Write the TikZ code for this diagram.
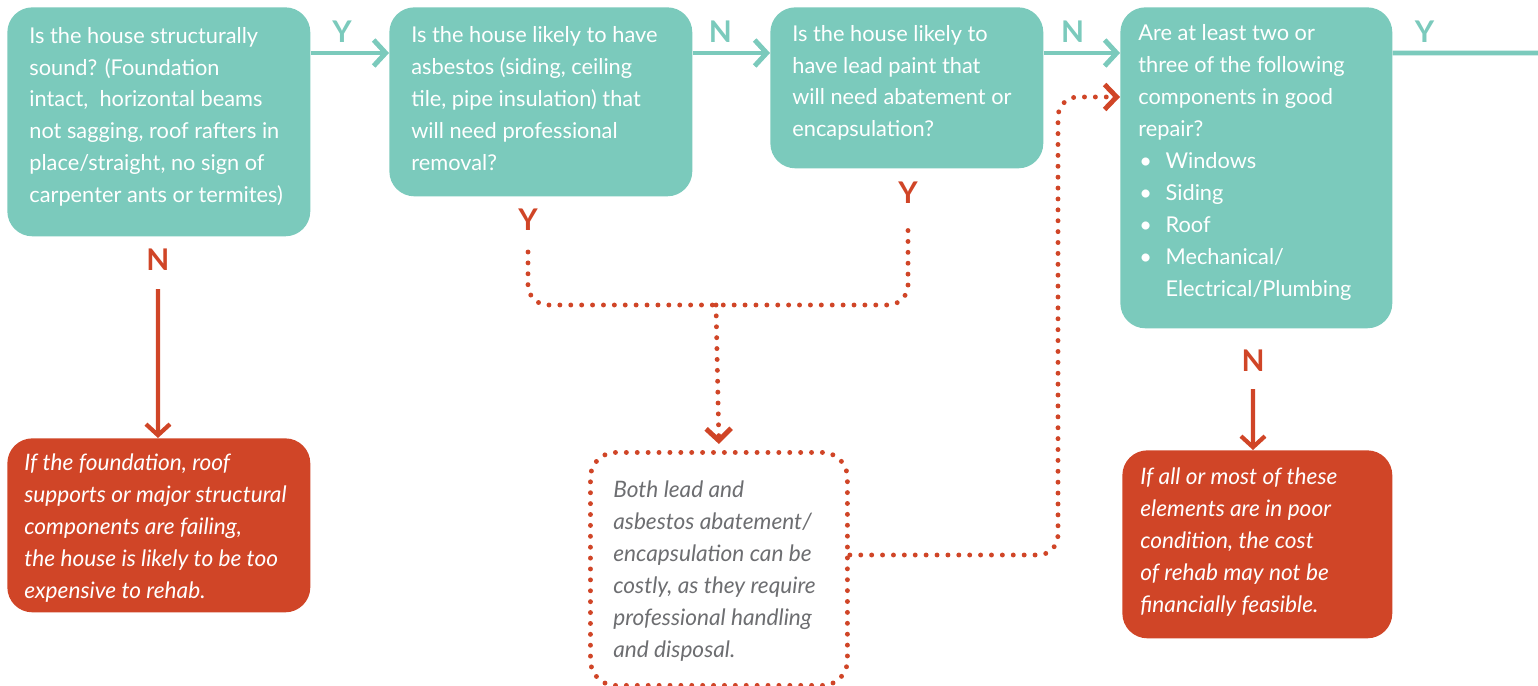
\documentclass[tikz,border=0pt]{standalone}
\usepackage{fontspec}
\setmainfont{Lato}
\usetikzlibrary{arrows.meta}
\definecolor{tuerkis}{HTML}{7BCABC}
\definecolor{rostrot}{HTML}{D04527}
\definecolor{textgrau}{HTML}{6D6E71}
\begin{document}
\begin{tikzpicture}[x=0.02cm,y=-0.02cm,
  kasten/.style={anchor=north west,rounded corners=0.5cm,inner sep=0pt},
  frage/.style={kasten,fill=tuerkis},
  warnung/.style={kasten,fill=rostrot},
  hinweis/.style={kasten,draw=rostrot,line width=2.8pt,line cap=round,dash pattern=on 0pt off 6.2pt},
  schrift/.style={anchor=west,align=left,inner sep=0pt,text=white,
    font=\fontsize{12.4}{18.2}\selectfont},
  kursiv/.style={schrift,font=\fontsize{12.9}{18.2}\selectfont\itshape},
  gruen/.style={draw=tuerkis,line width=2.8pt,-{Straight Barb[length=2.4mm,width=5.2mm]}},
  rot/.style={draw=rostrot,line width=2.4pt,-{Straight Barb[length=2.2mm,width=4.8mm]}},
  punkte/.style={draw=rostrot,line width=2.8pt,line cap=round,dash pattern=on 0pt off 6.2pt,rounded corners=0.4cm},
  jn/.style={font=\fontsize{17}{17}\bfseries}]
\useasboundingbox (0,0) rectangle (1538,686);

% Fragen
\node[frage,minimum width=6.06cm,minimum height=4.58cm] (haus) at (7,7) {};
\node[schrift] (haustext) at ([xshift=0.44cm,yshift=0.1cm]haus.west)
  {Is the house structurally\\ sound? (Foundation\\ intact,\ \ horizontal beams\\ not sagging, roof rafters in\\ place/straight, no sign of\\ carpenter ants or termites)};
\node[frage,minimum width=6.06cm,minimum height=3.78cm] (asbest) at (389,7) {};
\node[schrift] (asbesttext) at ([xshift=0.44cm,yshift=0.06cm]asbest.west)
  {Is the house likely to have\\ asbestos (siding, ceiling\\ tile, pipe insulation) that\\ will need professional\\ removal?};
\node[frage,minimum width=5.46cm,minimum height=3.22cm] (blei) at (770,7) {};
\node[schrift] (bleitext) at ([xshift=0.44cm,yshift=0.1cm]blei.west)
  {Is the house likely to\\ have lead paint that\\ will need abatement or\\ encapsulation?};
\node[frage,minimum width=5.44cm,minimum height=6.42cm] (teile) at (1120,7) {};
\node[schrift] (teiletext) at ([xshift=0.36cm,yshift=0.1cm]teile.west)
  {Are at least two or\\ three of the following\\ components in good\\ repair?\\
   \hspace*{0.05em}\makebox[1.2em][l]{\textbullet}Windows\\
   \hspace*{0.05em}\makebox[1.2em][l]{\textbullet}Siding\\
   \hspace*{0.05em}\makebox[1.2em][l]{\textbullet}Roof\\
   \hspace*{0.05em}\makebox[1.2em][l]{\textbullet}Mechanical/\\
   \hspace*{1.25em}Electrical/Plumbing};

% Ergebnisse
\node[warnung,minimum width=6.06cm,minimum height=3.48cm] (teuer) at (7,438) {};
\node[kursiv] (teuertext) at ([xshift=0.34cm,yshift=-0.06cm]teuer.west)
  {If the foundation, roof\\ supports or major structural\\ components are failing,\\ the house is likely to be too\\ expensive to rehab.};
\node[hinweis,minimum width=5.14cm,minimum height=4.66cm] (abbau) at (588,450) {};
\node[kursiv,text=textgrau] (abbautext) at ([xshift=0.5cm,yshift=-0.04cm]abbau.west)
  {Both lead and\\ asbestos abatement/\\ encapsulation can be\\ costly, as they require\\ professional handling\\ and disposal.};
\node[warnung,minimum width=5.4cm,minimum height=3.76cm] (kosten) at (1122,450) {};
\node[kursiv] (kostentext) at ([xshift=0.36cm,yshift=0.04cm]kosten.west)
  {If all or most of these\\ elements are in poor\\ condition, the cost\\ of rehab may not be\\ financially feasible.};

% Koordinaten
\coordinate (ende) at (1538,53);
\coordinate (knick) at (716,305);
\coordinate (steig) at (1058,555);

% Pfeile
\draw[gruen] ([yshift=-0.92cm]haus.north east) -- node[pos=0.4,above=1pt,text=tuerkis,jn]{Y} ([yshift=-0.92cm]asbest.north west);
\draw[gruen] ([yshift=-0.92cm]asbest.north east) -- node[pos=0.36,above=1pt,text=tuerkis,jn]{N} ([yshift=-0.92cm]blei.north west);
\draw[gruen] ([yshift=-0.92cm]blei.north east) -- node[pos=0.38,above=1pt,text=tuerkis,jn]{N} ([yshift=-0.92cm]teile.north west);
\draw[draw=tuerkis,line width=2.8pt] ([yshift=-0.92cm]teile.north east) -- node[pos=0.22,above=1pt,text=tuerkis,jn]{Y} (ende);

\node[jn,text=rostrot] (nhaus) at (158,260) {N};
\draw[rot] ([yshift=-0.24cm]nhaus.south) -- ([xshift=3.02cm]teuer.north west);
\node[jn,text=rostrot] (nteile) at (1253,361) {N};
\draw[rot] ([yshift=-0.22cm]nteile.south) -- ([xshift=2.62cm]kosten.north west);

\node[jn,text=rostrot] (yasbest) at (528,220) {Y};
\node[jn,text=rostrot] (yblei) at (908,193) {Y};
\draw[punkte] ([yshift=-0.3cm]yasbest.south) |- (knick) -| ([yshift=-0.3cm]yblei.south);
\draw[punkte,-{Straight Barb[length=2.4mm,width=5mm]}] (knick) -- ([yshift=0.12cm]abbau.north);
\draw[punkte,-{Straight Barb[length=2.4mm,width=5mm]}] (abbau.east |- steig) -- (steig) |- ([yshift=-1.8cm]teile.north west);
\end{tikzpicture}
\end{document}
